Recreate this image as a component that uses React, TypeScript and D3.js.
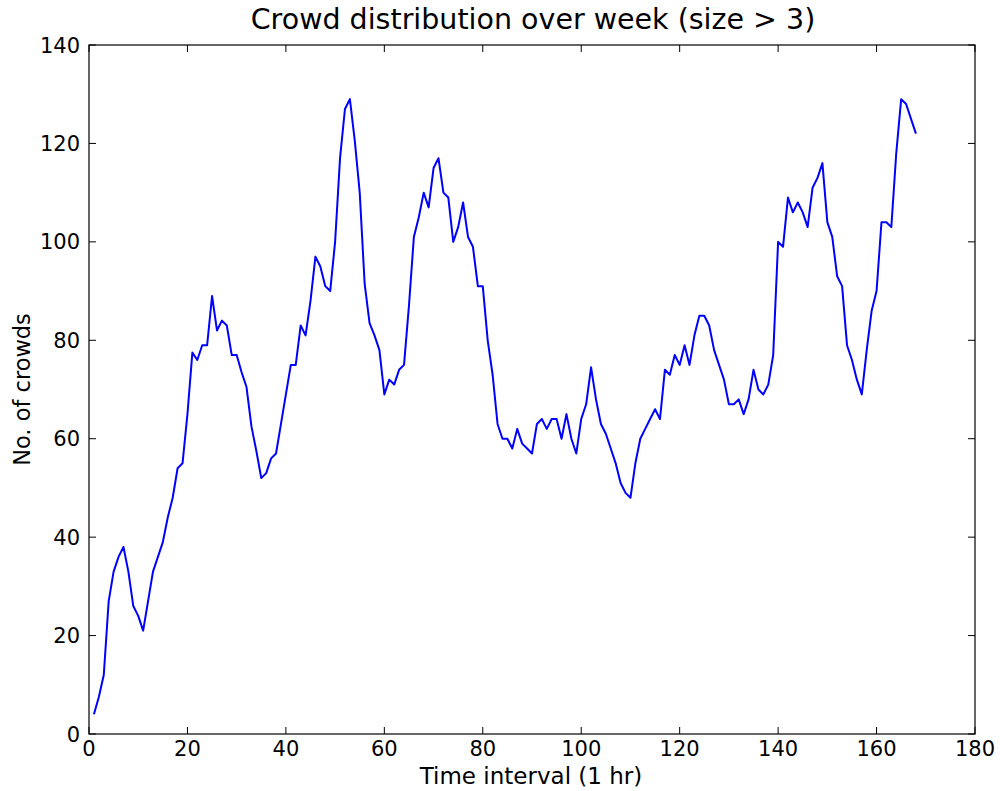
import React, { useEffect, useRef } from "react";
import * as d3 from "d3";

const hours: number[] = Array.from({ length: 168 }, (_, i) => i + 1);
const crowds: number[] = [
  4, 7.5, 12, 27, 33, 36, 38, 33, 26, 24,
  21, 27, 33, 36, 39, 44, 48, 54, 55, 65,
  77.5, 76, 79, 79, 89, 82, 84, 83, 77, 77,
  73.5, 70.5, 62.5, 57.5, 52, 53, 56, 57, 63, 69,
  75, 75, 83, 81, 88, 97, 95, 91, 90, 100,
  117, 127, 129, 120.5, 110, 91.5, 83.5, 81, 78, 69,
  72, 71, 74, 75, 87, 101, 105, 110, 107, 115,
  117, 110, 109, 100, 103, 108, 101, 99, 91, 91,
  80, 73, 63, 60, 60, 58, 62, 59, 58, 57,
  63, 64, 62, 64, 64, 60, 65, 60, 57, 64,
  67, 74.5, 68, 63, 61, 58, 55, 51, 49, 48,
  55, 60, 62, 64, 66, 64, 74, 73, 77, 75,
  79, 75, 81, 85, 85, 83, 78, 75, 72, 67,
  67, 68, 65, 68, 74, 70, 69, 71, 77, 100,
  99, 109, 106, 108, 106, 103, 111, 113, 116, 104,
  101, 93, 91, 79, 76, 72, 69, 78, 86, 90,
  104, 104, 103, 118, 129, 128, 125, 122,
];
const xTicks: number[] = [0, 20, 40, 60, 80, 100, 120, 140, 160, 180];
const yTicks: number[] = [0, 20, 40, 60, 80, 100, 120, 140];

const titleText = "Crowd distribution over week (size > 3)";
const xLabel = "Time interval (1 hr)";
const yLabel = "No. of crowds";

export default function App() {
  const ref = useRef<SVGSVGElement | null>(null);
  useEffect(() => {
    const W = 1000, H = 791;
    const left = 89, right = 975, top = 45, bottom = 734;
    const svg = d3.select(ref.current);
    svg.selectAll("*").remove();
    const font = "DejaVu Sans, sans-serif";
    const x = d3.scaleLinear().domain([0, 180]).range([left, right]);
    const y = d3.scaleLinear().domain([0, 140]).range([bottom, top]);

    svg.append("rect").attr("width", W).attr("height", H).attr("fill", "white");

    const line = d3.line<number>().x((_, i) => x(hours[i])).y((d) => y(d));
    svg.append("path").datum(crowds).attr("d", line).attr("fill", "none")
      .attr("stroke", "#0000ff").attr("stroke-width", 2).attr("stroke-linejoin", "round");

    const tl = 7;
    const g = svg.append("g").attr("stroke", "black").attr("stroke-width", 1);
    xTicks.forEach((t) => {
      g.append("line").attr("x1", x(t)).attr("x2", x(t)).attr("y1", bottom).attr("y2", bottom - tl);
      g.append("line").attr("x1", x(t)).attr("x2", x(t)).attr("y1", top).attr("y2", top + tl);
    });
    yTicks.forEach((t) => {
      g.append("line").attr("x1", left).attr("x2", left + tl).attr("y1", y(t)).attr("y2", y(t));
      g.append("line").attr("x1", right).attr("x2", right - tl).attr("y1", y(t)).attr("y2", y(t));
    });
    svg.append("rect").attr("x", left).attr("y", top).attr("width", right - left).attr("height", bottom - top)
      .attr("fill", "none").attr("stroke", "black").attr("stroke-width", 1.2);

    const fs = 21;
    xTicks.forEach((t) => {
      svg.append("text").attr("x", x(t)).attr("y", bottom + 22).attr("text-anchor", "middle")
        .attr("font-family", font).attr("font-size", fs).text(String(t));
    });
    yTicks.forEach((t) => {
      svg.append("text").attr("x", left - 9).attr("y", y(t) + 7.5).attr("text-anchor", "end")
        .attr("font-family", font).attr("font-size", fs).text(String(t));
    });
    svg.append("text").attr("x", (left + right) / 2 - 1).attr("y", 784).attr("text-anchor", "middle")
      .attr("font-family", font).attr("font-size", 23).text(xLabel);
    svg.append("text").attr("transform", `translate(30,${(top + bottom) / 2}) rotate(-90)`)
      .attr("text-anchor", "middle").attr("font-family", font).attr("font-size", 22.5).text(yLabel);
    svg.append("text").attr("x", (left + right) / 2 + 1).attr("y", 29).attr("text-anchor", "middle")
      .attr("font-family", font).attr("font-size", 28.5).text(titleText);
  }, []);
  return (
    <svg ref={ref} width={1000} height={791}
      style={{ display: "block", position: "absolute", left: 0, top: 0 }} />
  );
}
